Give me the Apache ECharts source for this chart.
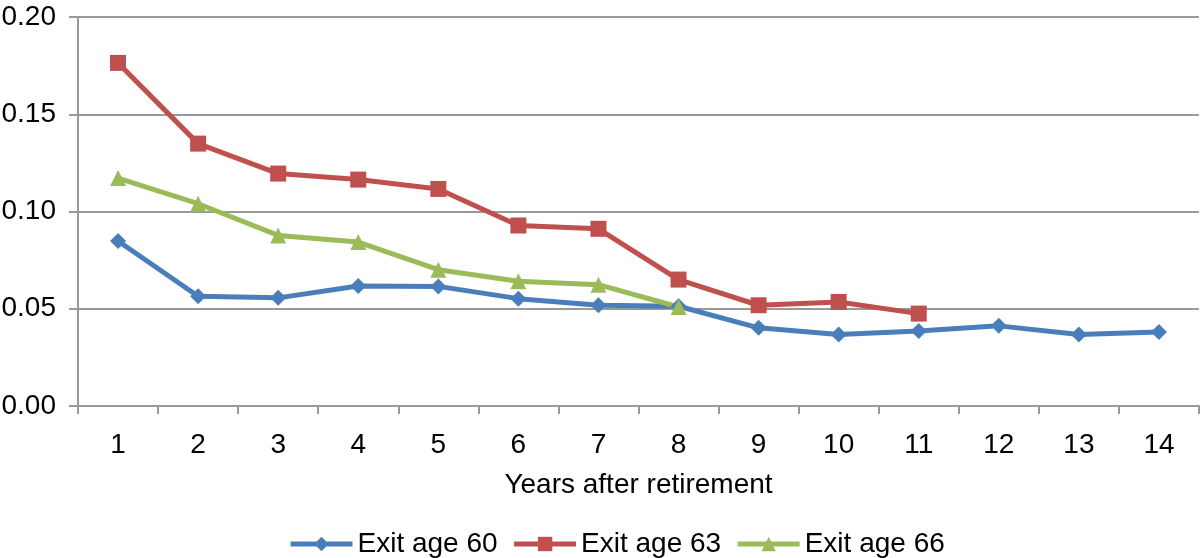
<!DOCTYPE html>
<html>
<head>
<meta charset="utf-8">
<script src="https://cdn.jsdelivr.net/npm/echarts@6/dist/echarts.min.js"></script>
<style>html,body{margin:0;padding:0;background:#fff;}#c{width:1200px;height:558px;}</style>
</head>
<body>
<div id="c"></div>
<script>
const categories = ['1','2','3','4','5','6','7','8','9','10','11','12','13','14'];
const exit60 = [0.0848,0.0564,0.0556,0.0617,0.0615,0.0552,0.0518,0.0513,0.0402,0.0368,0.0385,0.0412,0.0368,0.0381];
const exit63 = [0.1764,0.1349,0.1195,0.1164,0.1116,0.0928,0.0911,0.0650,0.0518,0.0535,0.0475];
const exit66 = [0.1172,0.1040,0.0877,0.0843,0.0701,0.0641,0.0624,0.0509];
const seriesNames = ['Exit age 60','Exit age 63','Exit age 66'];
const yTicks = {min:0, max:0.2, interval:0.05};

const font = 'Liberation Sans, Arial, sans-serif';
const chart = echarts.init(document.getElementById('c'));
const mk = (name, data, color, symbol, size) => ({
  name, type:'line', data, symbol, symbolSize:size, showAllSymbol:true,
  lineStyle:{color, width:5}, itemStyle:{color}, animation:false
});
chart.setOption({
  animation:false,
  textStyle:{fontFamily:font},
  grid:{left:78, right:1, top:17, bottom:152, containLabel:false, outerBoundsMode:'none'},
  xAxis:{
    type:'category', data:categories, boundaryGap:true,
    name:'Years after retirement', nameLocation:'middle', nameGap:65,
    nameTextStyle:{fontSize:28, color:'#000', fontFamily:font},
    axisLine:{lineStyle:{color:'#999', width:2}},
    axisTick:{show:true, length:8, lineStyle:{color:'#999', width:2}, alignWithLabel:false},
    axisLabel:{fontSize:28, color:'#000', margin:25, fontFamily:font},
    splitLine:{show:false}
  },
  yAxis:{
    type:'value', min:yTicks.min, max:yTicks.max, interval:yTicks.interval,
    axisLine:{show:true, lineStyle:{color:'#999', width:2}},
    axisTick:{show:true, length:9, lineStyle:{color:'#999', width:2}},
    axisLabel:{fontSize:28, color:'#000', margin:22, fontFamily:font, formatter:v=>v.toFixed(2)},
    splitLine:{show:true, lineStyle:{color:'#999', width:2}}
  },
  legend:{
    top:525, left:283, itemWidth:62, itemHeight:18, itemGap:14,
    textStyle:{fontSize:28, color:'#000', fontFamily:font},
    lineStyle:{width:5},
    data:seriesNames
  },
  series:[
    mk(seriesNames[0], exit60, '#4A7EBB', 'diamond', 16),
    mk(seriesNames[1], exit63, '#C0504D', 'rect', 16),
    mk(seriesNames[2], exit66, '#9BBB59', 'triangle', 16)
  ]
});
</script>
</body>
</html>
